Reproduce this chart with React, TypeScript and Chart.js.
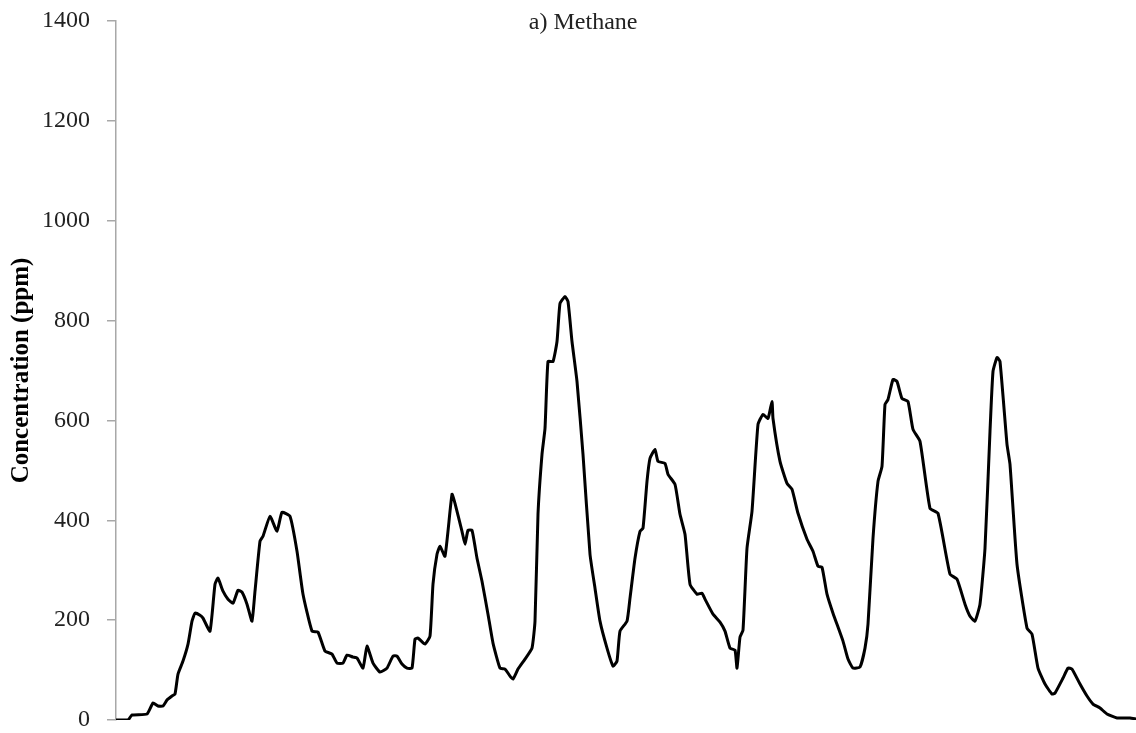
import React, { useEffect, useRef } from "react";
import { Chart, registerables } from "chart.js";

Chart.register(...registerables);

// Sample index (time steps) and methane concentration (ppm)
const time: number[] = [
  0, 12, 16, 31, 37, 42, 47, 51, 56, 59, 62, 67, 72, 76, 79, 84, 87, 94, 99, 102,
  107, 112, 117, 122, 126, 131, 136, 139, 144, 147, 154, 161, 166, 174, 181, 187,
  196, 202, 209, 216, 221, 227, 231, 237, 241, 247, 251, 257, 264, 271, 277, 281,
  286, 291, 296, 299, 302, 309, 314, 317, 321, 324, 329, 336, 339, 346, 349, 352,
  356, 361, 366, 372, 377, 384, 389, 394, 397, 402, 409, 416, 419, 422, 426, 429,
  432, 437, 441, 444, 449, 452, 456, 461, 467, 474, 479, 484, 491, 497, 501, 504,
  511, 514, 519, 524, 527, 531, 534, 539, 542, 549, 552, 559, 564, 569, 574, 581,
  586, 589, 597, 604, 609, 614, 619, 621, 624, 627, 631, 636, 642, 647, 652, 656,
  657, 664, 671, 676, 682, 691, 697, 702, 706, 711, 717, 727, 732, 737, 744, 749,
  752, 757, 762, 766, 769, 772, 777, 781, 786, 792, 797, 804, 814, 822, 834, 841,
  849, 854, 859, 864, 869, 874, 877, 881, 884, 891, 894, 901, 911, 916, 922, 929,
  936, 939, 947, 952, 956, 964, 971, 977, 984, 991, 1001, 1014, 1020,
];

const methane: number[] = [
  0, 0, 10, 12, 34, 28, 28, 40, 48, 52, 92, 118, 152, 198, 214, 210, 204, 178, 272, 284,
  258, 242, 234, 260, 256, 232, 198, 258, 358, 368, 408, 378, 416, 408, 338, 252,
  178, 176, 138, 132, 114, 114, 130, 126, 124, 104, 148, 114, 96, 104, 128, 128,
  112, 104, 104, 162, 164, 152, 168, 272, 332, 348, 328, 452, 434, 378, 352, 380,
  380, 324, 278, 212, 154, 104, 102, 88, 82, 102, 122, 144, 198, 412, 532, 584,
  718, 718, 758, 834, 848, 838, 758, 678, 532, 332, 264, 198, 144, 108, 118, 178,
  198, 244, 324, 378, 384, 478, 524, 542, 518, 514, 492, 472, 412, 372, 272, 252,
  254, 242, 212, 196, 178, 144, 140, 104, 166, 180, 344, 418, 592, 612, 604, 638,
  604, 518, 474, 462, 414, 362, 338, 308, 306, 252, 214, 158, 122, 104, 106, 144,
  192, 364, 478, 508, 632, 642, 682, 678, 644, 638, 582, 558, 424, 414, 292, 282,
  232, 208, 198, 232, 344, 578, 698, 726, 718, 552, 512, 312, 184, 172, 104, 72,
  52, 54, 84, 104, 102, 72, 48, 32, 24, 12, 4, 4, 2,
];

const yTicks: number[] = [0, 200, 400, 600, 800, 1000, 1200, 1400];
const chartTitle = "a) Methane";
const yTitle = "Concentration (ppm)";

const SERIF = "'Liberation Serif', 'Times New Roman', serif";

export default function App() {
  const ref = useRef<HTMLCanvasElement | null>(null);

  useEffect(() => {
    document.body.style.margin = "0";
    const canvas = ref.current;
    if (!canvas) return;

    const titlePlugin = {
      id: "titleText",
      afterDraw(chart: any) {
        const { ctx, chartArea } = chart;
        ctx.save();
        ctx.font = `24px ${SERIF}`;
        ctx.fillStyle = "#222";
        ctx.textAlign = "center";
        ctx.textBaseline = "middle";
        const x = chartArea.left + (chartArea.right - chartArea.left) * 0.458;
        ctx.fillText(chartTitle, x, chartArea.top + 2);
        ctx.restore();
      },
    };

    const chart = new Chart(canvas, {
      type: "line",
      data: {
        datasets: [
          {
            data: time.map((t, i) => ({ x: t, y: methane[i] })),
            borderColor: "#000",
            borderWidth: 3,
            pointRadius: 0,
            tension: 0.15,
            borderJoinStyle: "round",
            borderCapStyle: "round",
            fill: false,
          },
        ],
      },
      options: {
        animation: false,
        responsive: true,
        maintainAspectRatio: false,
        layout: { padding: { top: 21, bottom: 13, left: 0, right: 0 } },
        plugins: {
          legend: { display: false },
          tooltip: { enabled: false },
          title: { display: false },
        },
        scales: {
          x: {
            type: "linear",
            min: 0,
            max: 1020,
            display: false,
          },
          y: {
            min: 0,
            max: 1400,
            afterBuildTicks: (scale: any) => {
              scale.ticks = yTicks.map((v) => ({ value: v }));
            },
            afterFit: (scale: any) => {
              scale.width = 116;
              scale.paddingTop = 0;
              scale.paddingBottom = 0;
            },
            border: { display: true, color: "#a8a8a8", width: 1.5 },
            grid: {
              display: true,
              drawOnChartArea: false,
              drawTicks: true,
              tickLength: 9,
              color: "#a8a8a8",
              lineWidth: 1.5,
            },
            ticks: {
              color: "#222",
              padding: 17,
              font: { family: SERIF, size: 24 },
              callback: (v: any) => String(v),
            },
            title: {
              display: true,
              text: yTitle,
              color: "#000",
              font: { family: SERIF, size: 25, weight: "bold" },
              padding: { top: 7, bottom: 0 },
            },
          },
        },
      },
      plugins: [titlePlugin],
    });

    return () => chart.destroy();
  }, []);

  return (
    <div style={{ position: "fixed", left: 0, top: 0, width: 1136, height: 733 }}>
      <canvas ref={ref} />
    </div>
  );
}
